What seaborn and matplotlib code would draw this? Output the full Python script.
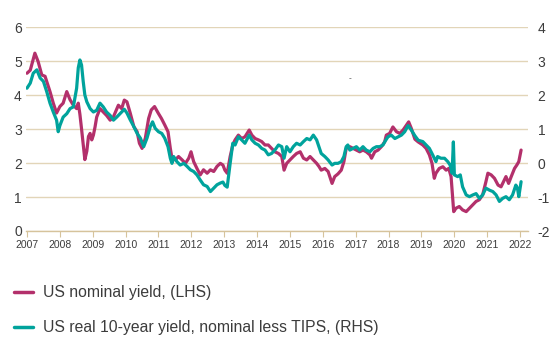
import matplotlib
matplotlib.use("Agg")
import matplotlib.pyplot as plt
import seaborn as sns

# US 10-year nominal yield (left axis, %), by decimal year
nom_year = [
    2007.00, 2007.10, 2007.24, 2007.34, 2007.45, 2007.55, 2007.60, 2007.70, 2007.80, 2007.90,
    2008.00, 2008.10, 2008.21, 2008.31, 2008.41, 2008.51, 2008.56, 2008.61, 2008.66, 2008.71,
    2008.76, 2008.82, 2008.87, 2008.92, 2008.97, 2009.02, 2009.07, 2009.12, 2009.22, 2009.32,
    2009.42, 2009.53, 2009.63, 2009.78, 2009.88, 2009.96, 2010.04, 2010.14, 2010.25, 2010.35,
    2010.42, 2010.50, 2010.60, 2010.70, 2010.78, 2010.88, 2010.99, 2011.09, 2011.19, 2011.29,
    2011.36, 2011.41, 2011.51, 2011.61, 2011.72, 2011.82, 2011.92, 2011.99, 2012.07, 2012.17,
    2012.27, 2012.37, 2012.48, 2012.58, 2012.68, 2012.78, 2012.88, 2012.96, 2013.02, 2013.09,
    2013.18, 2013.26, 2013.33, 2013.43, 2013.53, 2013.63, 2013.76, 2013.84, 2013.94, 2014.04,
    2014.14, 2014.24, 2014.34, 2014.44, 2014.54, 2014.65, 2014.75, 2014.82, 2014.90, 2015.00,
    2015.10, 2015.20, 2015.31, 2015.41, 2015.51, 2015.61, 2015.71, 2015.81, 2015.88, 2015.95,
    2016.06, 2016.16, 2016.28, 2016.36, 2016.46, 2016.56, 2016.64, 2016.71, 2016.82, 2016.92,
    2017.02, 2017.12, 2017.22, 2017.32, 2017.43, 2017.48, 2017.58, 2017.68, 2017.78, 2017.88,
    2017.93, 2018.03, 2018.13, 2018.24, 2018.34, 2018.44, 2018.54, 2018.61, 2018.69, 2018.80,
    2018.90, 2019.04, 2019.14, 2019.24, 2019.32, 2019.39, 2019.44, 2019.54, 2019.65, 2019.75,
    2019.83, 2019.90, 2019.95, 2019.98, 2020.05, 2020.15, 2020.25, 2020.36, 2020.46, 2020.56,
    2020.66, 2020.76, 2020.86, 2020.96, 2021.02, 2021.12, 2021.22, 2021.33, 2021.42, 2021.52,
    2021.57, 2021.65, 2021.73, 2021.83, 2021.90, 2021.96, 2022.03,
]
nom_value = [
    4.64, 4.73, 5.23, 4.98, 4.59, 4.55, 4.40, 4.10, 3.76, 3.47,
    3.66, 3.76, 4.10, 3.86, 3.70, 3.60, 3.76, 3.43, 3.00, 2.54,
    2.10, 2.35, 2.78, 2.87, 2.68, 2.82, 3.06, 3.35, 3.60, 3.50,
    3.40, 3.26, 3.36, 3.70, 3.60, 3.85, 3.80, 3.47, 3.07, 2.92,
    2.58, 2.43, 2.73, 3.31, 3.56, 3.66, 3.47, 3.31, 3.12, 2.92,
    2.43, 2.14, 2.09, 2.19, 2.09, 1.99, 2.14, 2.33, 2.04, 1.84,
    1.65, 1.80, 1.70, 1.80, 1.75, 1.90, 1.99, 1.94, 1.79, 1.70,
    2.19, 2.53, 2.68, 2.82, 2.72, 2.77, 2.97, 2.82, 2.72, 2.68,
    2.63, 2.53, 2.53, 2.43, 2.33, 2.28, 2.19, 1.79, 1.99, 2.09,
    2.19, 2.28, 2.33, 2.14, 2.09, 2.19, 2.09, 1.99, 1.90, 1.79,
    1.84, 1.75, 1.40, 1.60, 1.68, 1.79, 2.04, 2.43, 2.48, 2.43,
    2.38, 2.33, 2.38, 2.33, 2.24, 2.14, 2.33, 2.38, 2.48, 2.62,
    2.82, 2.87, 3.06, 2.92, 2.87, 2.97, 3.11, 3.21, 3.02, 2.70,
    2.62, 2.53, 2.43, 2.24, 1.99, 1.55, 1.70, 1.84, 1.89, 1.79,
    1.84, 1.60, 0.96, 0.57, 0.67, 0.72, 0.62, 0.57, 0.67, 0.77,
    0.87, 0.92, 1.06, 1.45, 1.70, 1.65, 1.55, 1.35, 1.30, 1.50,
    1.60, 1.40, 1.60, 1.84, 1.94, 2.04, 2.38,
]

# US real 10-year yield (right axis, %), by decimal year
real_year = [
    2007.00, 2007.10, 2007.19, 2007.30, 2007.40, 2007.50, 2007.60, 2007.70, 2007.80, 2007.90,
    2007.95, 2008.00, 2008.10, 2008.21, 2008.31, 2008.41, 2008.51, 2008.56, 2008.61, 2008.66,
    2008.71, 2008.76, 2008.82, 2008.92, 2009.02, 2009.12, 2009.22, 2009.32, 2009.42, 2009.53,
    2009.63, 2009.73, 2009.83, 2009.96, 2010.04, 2010.14, 2010.25, 2010.35, 2010.45, 2010.55,
    2010.65, 2010.75, 2010.82, 2010.90, 2011.00, 2011.10, 2011.19, 2011.29, 2011.36, 2011.41,
    2011.46, 2011.56, 2011.66, 2011.77, 2011.87, 2011.97, 2012.07, 2012.17, 2012.27, 2012.37,
    2012.48, 2012.58, 2012.68, 2012.78, 2012.88, 2012.96, 2013.02, 2013.09, 2013.18, 2013.26,
    2013.33, 2013.43, 2013.53, 2013.63, 2013.76, 2013.84, 2013.94, 2014.04, 2014.14, 2014.24,
    2014.34, 2014.44, 2014.54, 2014.65, 2014.75, 2014.82, 2014.90, 2015.00, 2015.10, 2015.20,
    2015.31, 2015.41, 2015.51, 2015.61, 2015.71, 2015.81, 2015.88, 2015.95, 2016.06, 2016.16,
    2016.28, 2016.36, 2016.46, 2016.56, 2016.64, 2016.71, 2016.76, 2016.82, 2016.92, 2017.02,
    2017.12, 2017.22, 2017.32, 2017.43, 2017.53, 2017.63, 2017.73, 2017.83, 2017.88, 2017.98,
    2018.08, 2018.19, 2018.29, 2018.39, 2018.49, 2018.59, 2018.69, 2018.80, 2018.90, 2019.04,
    2019.14, 2019.24, 2019.34, 2019.44, 2019.49, 2019.59, 2019.70, 2019.80, 2019.87, 2019.93,
    2019.97, 2020.00, 2020.10, 2020.18, 2020.25, 2020.36, 2020.46, 2020.56, 2020.66, 2020.76,
    2020.86, 2020.96, 2021.07, 2021.17, 2021.27, 2021.37, 2021.47, 2021.57, 2021.67, 2021.77,
    2021.87, 2021.92, 2021.96, 2022.03,
]
real_value = [
    2.20, 2.35, 2.64, 2.74, 2.50, 2.40, 2.10, 1.76, 1.50, 1.26,
    0.92, 1.10, 1.35, 1.45, 1.60, 1.65, 2.20, 2.80, 3.03, 2.88,
    2.40, 2.00, 1.80, 1.60, 1.50, 1.55, 1.76, 1.65, 1.50, 1.40,
    1.26, 1.35, 1.45, 1.58, 1.47, 1.27, 1.07, 0.87, 0.73, 0.48,
    0.73, 1.07, 1.21, 1.02, 0.92, 0.87, 0.73, 0.48, 0.14, -0.01,
    0.19, 0.04, -0.06, -0.01, -0.10, -0.20, -0.25, -0.35, -0.50, -0.64,
    -0.69, -0.84, -0.74, -0.64, -0.59, -0.56, -0.66, -0.71, -0.01, 0.58,
    0.53, 0.77, 0.68, 0.58, 0.82, 0.68, 0.58, 0.53, 0.43, 0.38,
    0.24, 0.28, 0.38, 0.53, 0.48, 0.14, 0.48, 0.33, 0.48, 0.58,
    0.53, 0.63, 0.72, 0.68, 0.82, 0.68, 0.48, 0.28, 0.19, 0.09,
    -0.06, -0.01, -0.01, 0.04, 0.19, 0.48, 0.53, 0.38, 0.43, 0.48,
    0.38, 0.48, 0.38, 0.33, 0.43, 0.48, 0.48, 0.53, 0.62, 0.77,
    0.82, 0.72, 0.77, 0.82, 0.92, 1.10, 0.97, 0.80, 0.67, 0.63,
    0.53, 0.43, 0.24, 0.04, 0.19, 0.14, 0.14, 0.04, -0.06, -0.30,
    0.62, -0.35, -0.40, -0.35, -0.70, -0.94, -0.99, -0.94, -0.90, -1.04,
    -0.94, -0.74, -0.80, -0.84, -0.94, -1.13, -1.04, -0.99, -1.08, -0.94,
    -0.65, -0.74, -0.99, -0.55,
]

year_ticks = list(range(2007, 2023))
left_ticks = [0, 1, 2, 3, 4, 5, 6]
right_ticks = [-2, -1, 0, 1, 2, 3, 4]

nominal_label = "US nominal yield, (LHS)"
real_label = "US real 10-year yield, nominal less TIPS, (RHS)"

MAGENTA = "#b3306b"
TEAL = "#00a39c"
GRID = "#e2d5b8"
AXIS = "#d6c39c"
TEXT = "#3c3c3c"

sns.set_theme(style="white")
plt.rcParams["font.family"] = ["Liberation Sans", "DejaVu Sans"]
plt.rcParams["axes.unicode_minus"] = False

W, H = 558, 348
fig = plt.figure(figsize=(W / 100, H / 100), dpi=100)
ax = fig.add_axes([26 / W, 1 - 231 / H, (528 - 26) / W, (231 - 27) / H])
ax2 = ax.twinx()

sns.lineplot(x=nom_year, y=nom_value, ax=ax, color=MAGENTA, lw=2.3,
             sort=False, estimator=None, label=nominal_label)
sns.lineplot(x=real_year, y=real_value, ax=ax2, color=TEAL, lw=2.3,
             sort=False, estimator=None, label=real_label)

ax.set_xlim(2006.97, 2022.24)
ax.set_ylim(0, 6)
ax2.set_ylim(-2, 4)

ax.set_xticks(year_ticks)
ax.set_xticklabels([str(y) for y in year_ticks])
ax.set_yticks(left_ticks)
ax2.set_yticks(right_ticks)
ax.set_xlabel("")
ax.set_ylabel("")
ax2.set_ylabel("")

ax.yaxis.grid(True, color=GRID, lw=1.0)
ax.xaxis.grid(False)
ax2.grid(False)
ax.set_axisbelow(True)

for a in (ax, ax2):
    for side in ("top", "left", "right", "bottom"):
        a.spines[side].set_visible(False)
ax.spines["bottom"].set_visible(True)
ax.spines["bottom"].set_color(AXIS)
ax.spines["bottom"].set_linewidth(1.0)

ax.tick_params(axis="x", bottom=True, length=4, width=0.8, color=AXIS,
               labelsize=7.5, labelcolor=TEXT, pad=2.5)
ax.tick_params(axis="y", left=False, length=0, labelsize=10, labelcolor=TEXT, pad=3)
ax2.tick_params(axis="y", right=False, length=0, labelsize=10, labelcolor=TEXT, pad=7)

h1, l1 = ax.get_legend_handles_labels()
h2, l2 = ax2.get_legend_handles_labels()
for a in (ax, ax2):
    if a.get_legend() is not None:
        a.get_legend().remove()
leg = fig.legend(h1 + h2, l1 + l2, loc="upper left",
                 bbox_to_anchor=(14 / W, 1 - 285 / H), frameon=False,
                 fontsize=11.3, handlelength=1.2, handletextpad=0.65,
                 labelspacing=1.3, borderpad=0, borderaxespad=0)
for t in leg.get_texts():
    t.set_color(TEXT)
for ln in leg.get_lines():
    ln.set_linewidth(2.5)

fig.text(350 / W, 1 - 79 / H, "-", fontsize=6, color=TEXT, ha="center", va="center")

fig.savefig("out.png", dpi=100)
